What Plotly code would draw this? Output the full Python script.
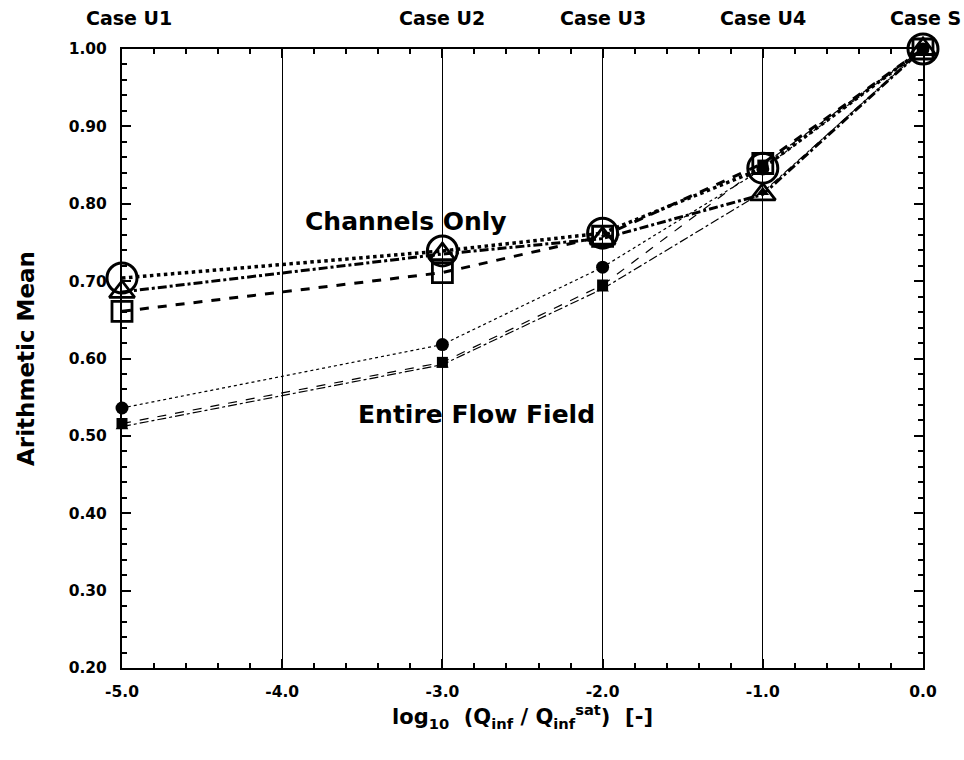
import plotly.graph_objects as go

x = [-5.0, -3.0, -2.0, -1.0, 0.0]

# Channels Only (open markers, thick lines)
ch_circle = [0.704, 0.739, 0.762, 0.846, 1.000]
ch_triangle = [0.686, 0.735, 0.755, 0.812, 1.000]
ch_square = [0.661, 0.711, 0.758, 0.852, 1.000]

# Entire Flow Field (filled markers, thin lines)
ef_circle = [0.536, 0.618, 0.718, 0.845, 1.000]
ef_square = [0.516, 0.595, 0.695, 0.850, 1.000]
ef_triangle = [0.512, 0.592, 0.690, 0.815, 1.000]

case_x = [-5.0, -3.0, -2.0, -1.0, 0.0]
case_labels = ["Case U1", "Case U2", "Case U3", "Case U4", "Case S"]

y_ticks = [0.2, 0.3, 0.4, 0.5, 0.6, 0.7, 0.8, 0.9, 1.0]
x_ticks = [-5.0, -4.0, -3.0, -2.0, -1.0, 0.0]

FONT = "DejaVu Sans, Liberation Sans, Arial, sans-serif"

fig = go.Figure()

def add(yv, sym, size, dash, width, mwidth):
    fig.add_trace(go.Scatter(
        x=x, y=yv, mode="lines+markers",
        line=dict(color="black", width=width, dash=dash),
        marker=dict(symbol=sym, size=size, color="black",
                    line=dict(color="black", width=mwidth)),
        showlegend=False, cliponaxis=False))

# thin entire-flow-field series
add(ef_circle, "circle", 13, "dot", 1.2, 0)
add(ef_square, "square", 11, "dash", 1.2, 0)
add(ef_triangle, "triangle-up", 11, "dashdot", 1.2, 0)
# thick channels-only series
add(ch_square, "square-open", 20, "dash", 3, 2.8)
add(ch_triangle, "triangle-up-open", 22, "dashdot", 3, 2.8)
add(ch_circle, "circle-open", 30, "dot", 3.5, 3)

ann = []
for cx, cl in zip(case_x, case_labels):
    xs = 0
    xa = "center"
    if cx == 0:
        xa = "right"
        xs = 40
    elif cx == -5:
        xs = 7
    ann.append(dict(x=cx, y=1.0, xref="x", yref="paper", yshift=18,
                    text="<b>%s</b>" % cl, showarrow=False, yanchor="bottom",
                    xanchor=xa, xshift=xs,
                    font=dict(size=19, family=FONT, color="black")))
ann.append(dict(x=-3.227, y=0.777, xref="x", yref="y", text="<b>Channels Only</b>",
                showarrow=False, font=dict(size=25, family=FONT, color="black")))
ann.append(dict(x=-2.79, y=0.527, xref="x", yref="y", text="<b>Entire Flow Field</b>",
                showarrow=False, font=dict(size=25, family=FONT, color="black")))

fig.update_layout(
    width=964, height=760,
    margin=dict(l=122, r=41, t=49, b=92),
    paper_bgcolor="white", plot_bgcolor="white",
    annotations=ann,
    font=dict(family=FONT, color="black"),
    xaxis=dict(range=[-5, 0], tickvals=x_ticks,
               ticktext=["<b>%.1f</b>" % v for v in x_ticks],
               showgrid=True, gridcolor="black", gridwidth=1,
               zeroline=False, showline=True, linecolor="black", linewidth=2,
               mirror="ticks", ticks="inside", ticklen=9, tickwidth=2, tickcolor="black",
               minor=dict(dtick=0.2, ticks="inside", ticklen=5, tickwidth=1.5, tickcolor="black", showgrid=False),
               tickfont=dict(size=15.5, family=FONT), ticklabelstandoff=8,
               title=dict(text="<b>log<sub>10</sub>  (Q<sub>inf</sub> / Q<sub>inf</sub><sup>sat</sup>)  [-]</b>",
                          font=dict(size=21, family=FONT), standoff=10)),
    yaxis=dict(range=[0.2, 1.0], tickvals=y_ticks,
               ticktext=["<b>%.2f</b>" % v for v in y_ticks],
               showgrid=False, zeroline=False, showline=True, linecolor="black", linewidth=2,
               mirror="ticks", ticks="inside", ticklen=9, tickwidth=2, tickcolor="black",
               minor=dict(dtick=0.02, ticks="inside", ticklen=5, tickwidth=1.5, tickcolor="black", showgrid=False),
               tickfont=dict(size=15.5, family=FONT), ticklabelstandoff=10,
               title=dict(text="<b>Arithmetic Mean</b>", font=dict(size=23, family=FONT), standoff=28)),
)

fig.write_html("out.html")
